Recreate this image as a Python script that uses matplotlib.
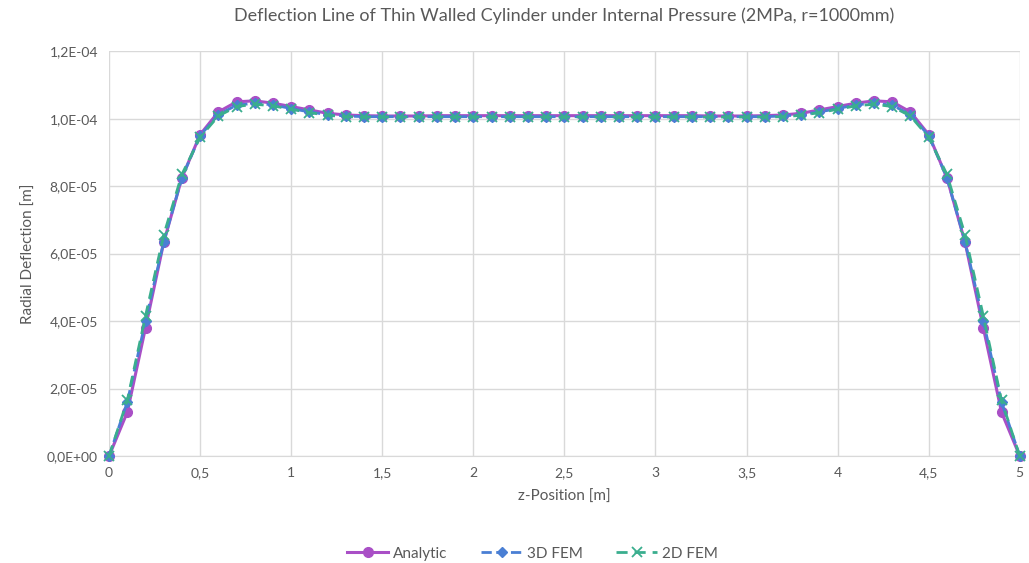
import numpy as np
import matplotlib.pyplot as plt

plt.rcParams['font.family'] = ['Lato', 'DejaVu Sans']

z = np.round(np.arange(0, 5.01, 0.1), 1)

# radial deflection in micrometres
analytic = [0.0, 13.0, 38.0, 63.3, 82.5, 95.3, 102.0, 105.0, 105.3, 104.6,
            103.6, 102.6, 101.6, 101.1, 100.9, 100.8, 100.8, 100.8, 100.9, 100.9,
            100.9, 100.9, 100.9, 100.9, 100.9, 100.9, 100.9, 100.9, 100.9, 100.9,
            100.9, 100.9, 100.9, 100.8, 100.8, 100.8, 100.9, 101.1, 101.6, 102.6,
            103.6, 104.6, 105.3, 105.0, 102.0, 95.3, 82.5, 63.3, 38.0, 13.0, 0.0]
fem3d = [0.0, 16.0, 40.0, 63.5, 82.5, 95.0, 101.2, 104.0, 104.6, 104.1,
         103.0, 102.0, 101.2, 100.8, 100.6, 100.6, 100.6, 100.6, 100.6, 100.6,
         100.6, 100.6, 100.6, 100.6, 100.6, 100.6, 100.6, 100.6, 100.6, 100.6,
         100.6, 100.6, 100.6, 100.6, 100.6, 100.6, 100.6, 100.8, 101.2, 102.0,
         103.0, 104.1, 104.6, 104.0, 101.2, 95.0, 82.5, 63.5, 40.0, 16.0, 0.0]
fem2d = [0.0, 16.5, 41.5, 65.5, 83.5, 94.5, 100.8, 103.6, 104.3, 103.8,
         102.8, 101.8, 101.0, 100.6, 100.5, 100.5, 100.5, 100.5, 100.5, 100.5,
         100.5, 100.5, 100.5, 100.5, 100.5, 100.5, 100.5, 100.5, 100.5, 100.5,
         100.5, 100.5, 100.5, 100.5, 100.5, 100.5, 100.5, 100.6, 101.0, 101.8,
         102.8, 103.8, 104.3, 103.6, 100.8, 94.5, 83.5, 65.5, 41.5, 16.5, 0.0]

xticks = [0, 0.5, 1, 1.5, 2, 2.5, 3, 3.5, 4, 4.5, 5]
xlabels = ['0', '0,5', '1', '1,5', '2', '2,5', '3', '3,5', '4', '4,5', '5']
yticks = [0, 2e-5, 4e-5, 6e-5, 8e-5, 1e-4, 1.2e-4]
ylabels = ['0,0E+00', '2,0E-05', '4,0E-05', '6,0E-05', '8,0E-05', '1,0E-04', '1,2E-04']

fig = plt.figure(figsize=(10.29, 5.63), dpi=100)
ax = fig.add_axes([0.106, 0.19, 0.885, 0.719])

ax.plot(z, np.array(analytic) * 1e-6, '-o', color='#a94fc6', lw=2.2, ms=7,
        label='Analytic', clip_on=False, zorder=3)
ax.plot(z, np.array(fem3d) * 1e-6, '--D', color='#4a7fd4', lw=2.0, ms=5,
        label='3D FEM', clip_on=False, zorder=4)
ax.plot(z, np.array(fem2d) * 1e-6, '--x', color='#3aae8e', lw=2.0, ms=7,
        mew=1.3, dashes=(4, 2.5), label='2D FEM', clip_on=False, zorder=5)

ax.set_xlim(0, 5)
ax.set_ylim(0, 1.2e-4)
ax.set_xticks(xticks)
ax.set_xticklabels(xlabels)
ax.set_yticks(yticks)
ax.set_yticklabels(ylabels)
ax.tick_params(length=0, labelsize=10, colors='#595959', pad=8)
ax.grid(True, color='#d9d9d9', lw=1)
ax.set_axisbelow(True)
for s in ax.spines.values():
    s.set_visible(False)
ax.spines['bottom'].set_visible(True)
ax.spines['bottom'].set_color('#d9d9d9')

ax.set_title('Deflection Line of Thin Walled Cylinder under Internal Pressure (2MPa, r=1000mm)',
             fontsize=13, color='#595959', pad=22)
ax.set_xlabel('z-Position [m]', fontsize=11, color='#595959', labelpad=8)
ax.set_ylabel('Radial Deflection [m]', fontsize=11, color='#595959', labelpad=8)

leg = ax.legend(loc='upper center', bbox_to_anchor=(0.465, -0.19), ncol=3,
                frameon=False, fontsize=11, handlelength=2.7,
                handletextpad=0.3, columnspacing=2.2)
for t in leg.get_texts():
    t.set_color('#595959')

fig.savefig('out.png', dpi=100)
